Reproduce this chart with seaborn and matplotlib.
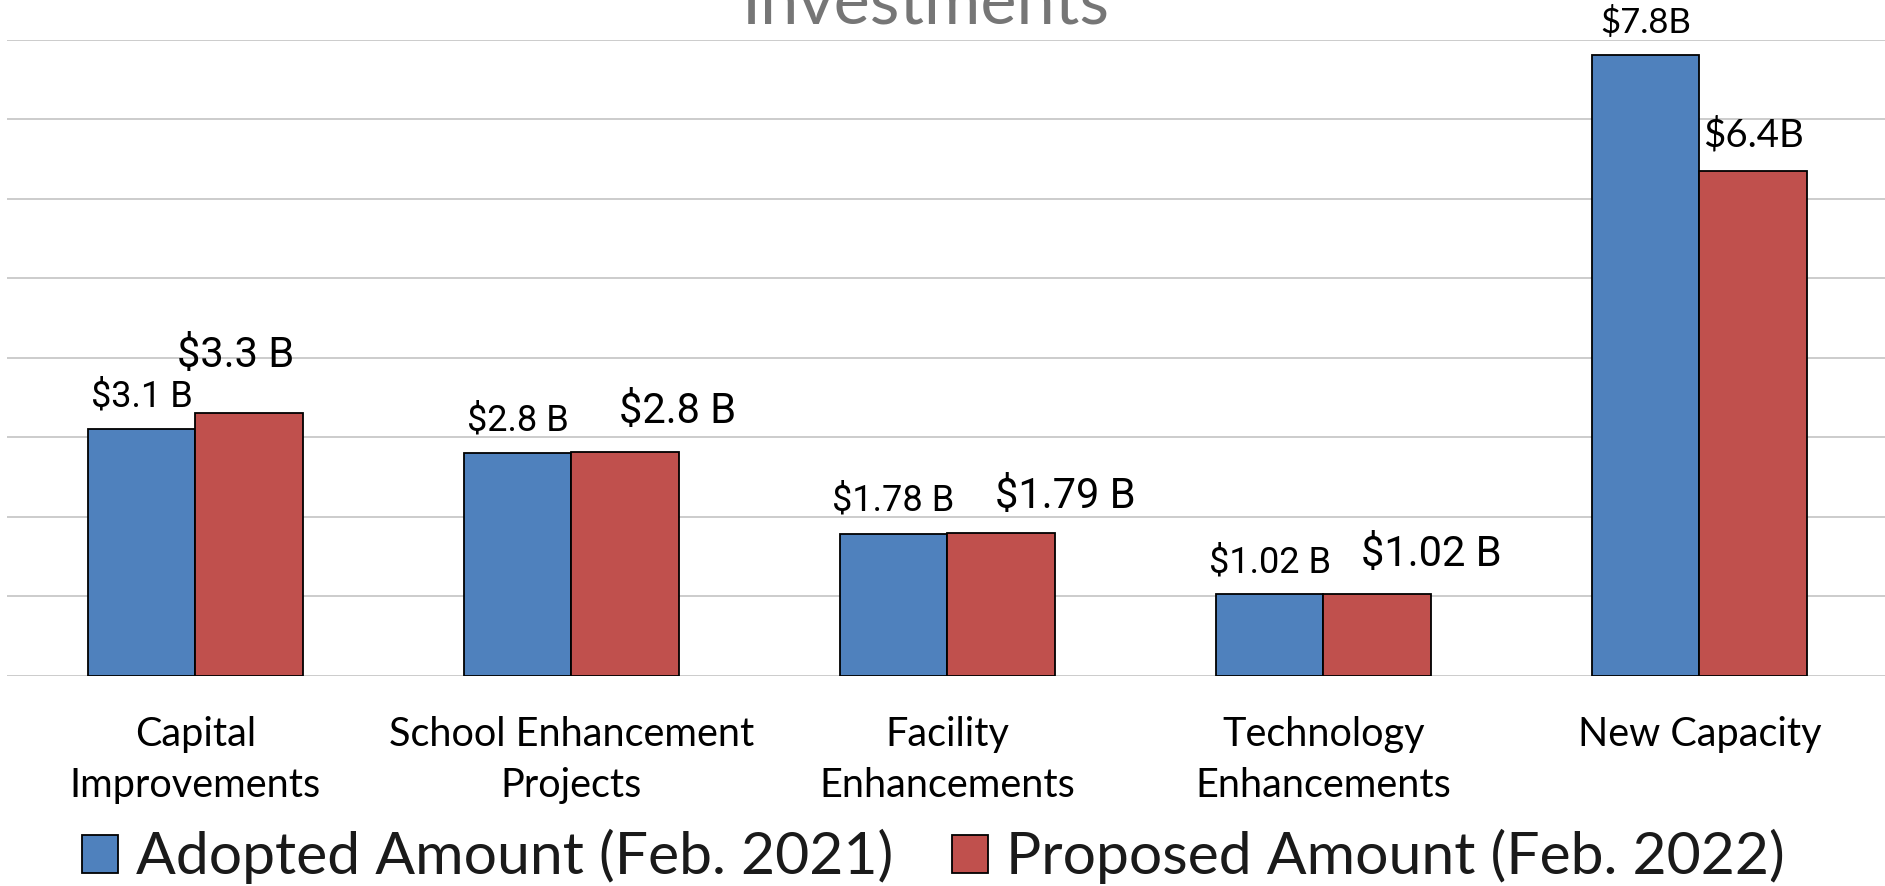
import numpy as np
import pandas as pd
import matplotlib
import matplotlib.pyplot as plt
import seaborn as sns
from matplotlib.patches import Patch

matplotlib.use("Agg")
sns.set_theme(style="white")

# dados do gráfico
categorias = ["Capital\nImprovements", "School Enhancement\nProjects",
              "Facility\nEnhancements", "Technology\nEnhancements", "New Capacity"]
series = ["Adopted Amount (Feb. 2021)", "Proposed Amount (Feb. 2022)"]
adotado = [3.1, 2.8, 1.78, 1.02, 7.8]
proposto = [3.3, 2.81, 1.79, 1.02, 6.35]
rot_adotado = ["$3.1 B", "$2.8 B", "$1.78 B", "$1.02 B", "$7.8B"]
rot_proposto = ["$3.3 B", "$2.8 B", "$1.79 B", "$1.02 B", "$6.4B"]
yticks = [0, 1, 2, 3, 4, 5, 6, 7, 8]

# deslocamento dos rótulos (pixels) em relação ao topo da barra
dx_prop = [-14, 52, 64, 54, 0]
dy_prop = [46, 29, 25, 28, 24]
dy_adot = [23, 22, 24, 22, 22]

AZUL = "#4F81BD"
VERMELHO = "#C0504D"
CALIBRI = ["Lato", "DejaVu Sans"]
ROBOTO = ["Roboto", "DejaVu Sans"]

df = pd.DataFrame({
    "categoria": categorias * 2,
    "serie": [series[0]] * 5 + [series[1]] * 5,
    "valor": adotado + proposto,
})

fig = plt.figure(figsize=(18.85, 8.86), dpi=100)
ax = fig.add_axes([7.4 / 1885, 210.4 / 886, 1880 / 1885, 636.1 / 886])

sns.barplot(data=df, x="categoria", y="valor", hue="serie", order=categorias,
            hue_order=series, palette=[AZUL, VERMELHO], width=0.573,
            edgecolor="black", linewidth=1.3, saturation=1, legend=False,
            ax=ax, zorder=3)

ax.set_xlim(-0.5, 4.5)
ax.set_ylim(0, 8)
ax.set_yticks(yticks)
ax.set_yticklabels([])
ax.grid(axis="y", color="#BFBFBF", linewidth=1.1, zorder=0)
ax.set_axisbelow(True)
for s in ax.spines.values():
    s.set_visible(False)
ax.set_xlabel("")
ax.set_ylabel("")
ax.tick_params(axis="both", length=0)
ax.tick_params(axis="x", pad=29)
for t in ax.get_xticklabels():
    t.set_fontfamily(CALIBRI)
    t.set_fontsize(28.5)
    t.set_color("black")
    t.set_linespacing(1.48)

# rótulos de valor
for i, b in enumerate(ax.containers[0].patches):
    xc = b.get_x() + b.get_width() / 2
    fam, fs = (CALIBRI, 25) if i == 4 else (ROBOTO, 26)
    ax.annotate(rot_adotado[i], (xc, b.get_height()), xytext=(0, dy_adot[i]),
                textcoords="offset pixels", ha="center", va="baseline",
                fontfamily=fam, fontsize=fs, color="black", annotation_clip=False)
for i, b in enumerate(ax.containers[1].patches):
    xc = b.get_x() + b.get_width() / 2
    fam, fs = (CALIBRI, 27.7) if i == 4 else (ROBOTO, 30)
    ax.annotate(rot_proposto[i], (xc, b.get_height()), xytext=(dx_prop[i], dy_prop[i]),
                textcoords="offset pixels", ha="center", va="baseline",
                fontfamily=fam, fontsize=fs, color="black", annotation_clip=False)

# título (cortado no topo, como no original)
fig.text(0.4913, 1 - 24 / 886, "Investments", ha="center", va="baseline",
         fontfamily=CALIBRI, fontsize=49.2, color="#767676")

handles = [Patch(facecolor=AZUL, edgecolor="black", linewidth=1.3),
           Patch(facecolor=VERMELHO, edgecolor="black", linewidth=1.3)]
leg = fig.legend(handles, series, loc="center", bbox_to_anchor=(0.4952, 0.033),
                 ncol=2, frameon=False, handlelength=0.61, handleheight=0.61,
                 handletextpad=0.31, columnspacing=1.0,
                 prop={"family": CALIBRI, "size": 42.4})
for t in leg.get_texts():
    t.set_color("#1a1a1a")

fig.savefig("out.png", dpi=100)
